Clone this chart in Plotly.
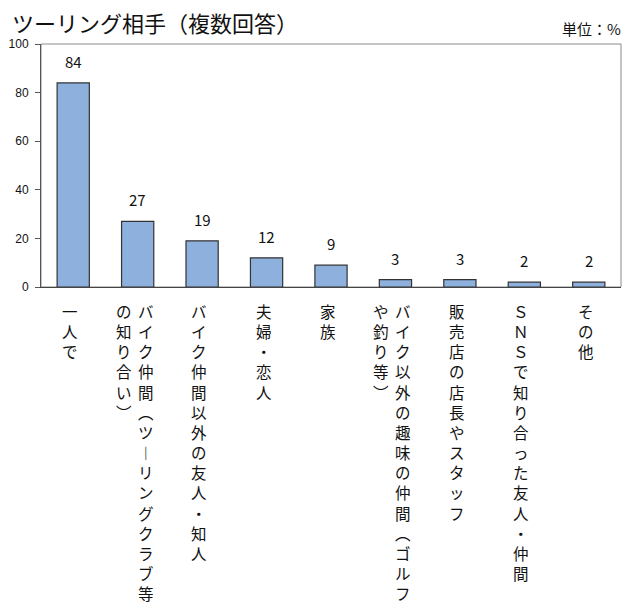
import plotly.graph_objects as go

# ---- data ----
categories = [
    "一人で",
    "バイク仲間（ツーリングクラブ等の知り合い）",
    "バイク仲間以外の友人・知人",
    "夫婦・恋人",
    "家族",
    "バイク以外の趣味の仲間（ゴルフや釣り等）",
    "販売店の店長やスタッフ",
    "ＳＮＳで知り合った友人・仲間",
    "その他",
]
# how each label wraps into vertical columns (right column first)
label_columns = [
    ["一人で"],
    ["バイク仲間（ツーリングクラブ等", "の知り合い）"],
    ["バイク仲間以外の友人・知人"],
    ["夫婦・恋人"],
    ["家族"],
    ["バイク以外の趣味の仲間（ゴルフ", "や釣り等）"],
    ["販売店の店長やスタッフ"],
    ["ＳＮＳで知り合った友人・仲間"],
    ["その他"],
]
values = [84, 27, 19, 12, 9, 3, 3, 2, 2]
y_ticks = [0, 20, 40, 60, 80, 100]

title_text = "ツーリング相手（複数回答）"
unit_text = "単位：%"

JP = "Noto Sans CJK JP"
VERT = {"ー": "︱", "（": "︵", "）": "︶"}


def vertical(s):
    return "<br>".join(VERT.get(c, c) for c in s)


fig = go.Figure()
fig.add_trace(go.Bar(
    x=categories,
    y=values,
    marker=dict(color="#8db0dd", line=dict(color="#333333", width=1.2)),
    width=0.5,
    hoverinfo="skip",
))

annotations = []
# value labels
for c, v in zip(categories, values):
    annotations.append(dict(
        x=c, y=v, xref="x", yref="y", text=str(v), showarrow=False,
        yanchor="bottom", yshift=9, font=dict(family=JP, size=15, color="#111"),
    ))
# vertical category labels
for c, cols in zip(categories, label_columns):
    if len(cols) == 1:
        shifts = [-3]
    else:
        shifts = [8, -14]
    for col, sh in zip(cols, shifts):
        annotations.append(dict(
            x=c, y=0, xref="x", yref="paper", text=vertical(col), showarrow=False,
            xanchor="center", yanchor="top", xshift=sh, yshift=-11, align="center",
            font=dict(family=JP, size=15.5, color="#111"),
        ))
# title and unit
annotations.append(dict(
    x=0, y=1, xref="paper", yref="paper", text=title_text, showarrow=False,
    xanchor="left", yanchor="middle", xshift=-31, yshift=22,
    font=dict(family=JP, size=22, color="#111"),
))
annotations.append(dict(
    x=1, y=1, xref="paper", yref="paper", text=unit_text, showarrow=False,
    xanchor="right", yanchor="middle", xshift=2, yshift=16,
    font=dict(family=JP, size=15, color="#111"),
))

fig.update_layout(
    width=640, height=608,
    margin=dict(l=41, r=19, t=44, b=321),
    paper_bgcolor="white", plot_bgcolor="white",
    showlegend=False,
    bargap=0.5,
    annotations=annotations,
    shapes=[dict(type="rect", xref="paper", yref="paper", x0=0, x1=1, y0=0, y1=1,
                 line=dict(color="#8a8a8a", width=1), layer="below")],
    xaxis=dict(showticklabels=False, ticks="", showgrid=False, zeroline=False,
               showline=True, linecolor="#444", linewidth=1, automargin=False),
    yaxis=dict(range=[0, 100], tickvals=y_ticks, ticks="outside", ticklen=5,
               tickcolor="#555", showgrid=False, zeroline=False,
               showline=True, linecolor="#555", linewidth=1,
               ticklabelstandoff=4, automargin=False,
               tickfont=dict(family="Liberation Sans", size=12, color="#111")),
)

fig.write_html("out.html")
